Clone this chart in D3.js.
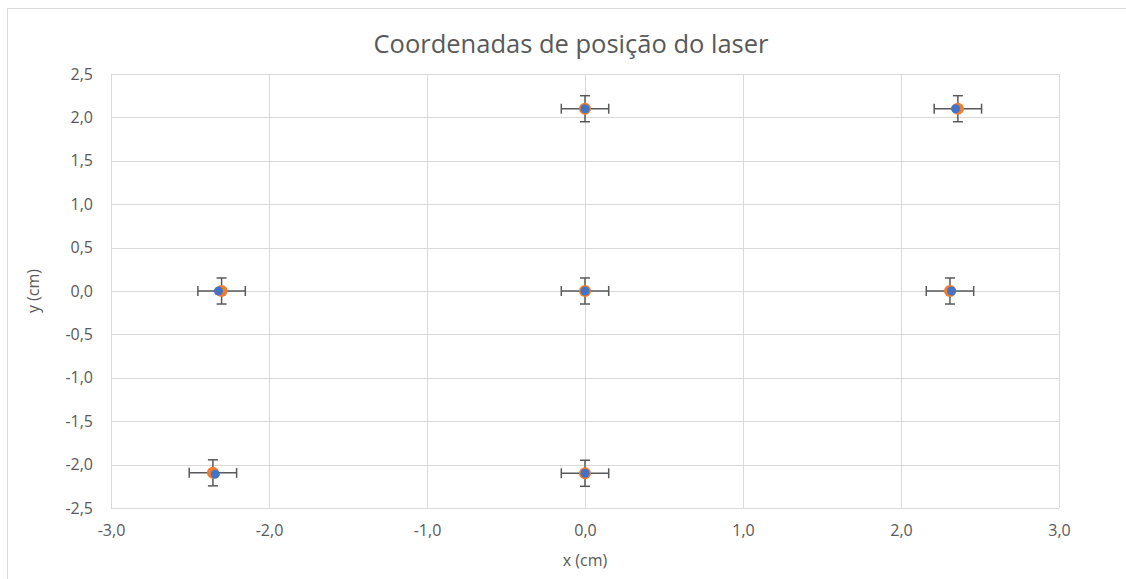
<!DOCTYPE html>
<html>
<head>
<meta charset="utf-8">
<script src="https://cdn.jsdelivr.net/npm/d3@7"></script>
<style>
	body { margin: 0; background: #fff; }
	text { font-family: "Open Sans", "Noto Sans", sans-serif; fill: #595959; }
</style>
</head>
<body>
<div id="chart"></div>
<script>
// measured positions (orange, with error bars)
var measured_x = [0, 2.36, -2.30, 0, 2.31, -2.355, 0];
var measured_y = [2.1, 2.1, 0, 0, 0, -2.095, -2.1];
// reference positions (blue)
var ref_x = [0, 2.345, -2.32, 0, 2.32, -2.34, 0];
var ref_y = [2.1, 2.1, 0, 0, 0, -2.11, -2.1];
var err_x = 0.15;
var err_y = 0.15;

var x_ticks = [-3, -2, -1, 0, 1, 2, 3];
var y_ticks = [-2.5, -2, -1.5, -1, -0.5, 0, 0.5, 1, 1.5, 2, 2.5];

var chart_width  = 1126;
var chart_height = 579;
var plot = { left: 111, right: 1059, top: 74, bottom: 508 };

var fmt = function(d){
	return d3.format('.1f')(d).replace('.', ',').replace('−', '-');
};

var svg = d3.select('#chart')
	.append('svg')
	.attr('width', chart_width)
	.attr('height', chart_height);

// chart frame
svg.append('rect')
	.attr('x', 7.5)
	.attr('y', 8.5)
	.attr('width', chart_width)
	.attr('height', chart_height)
	.attr('fill', 'none')
	.attr('stroke', '#d9d9d9');

var x_scale = d3.scaleLinear().domain([-3, 3]).range([plot.left, plot.right]);
var y_scale = d3.scaleLinear().domain([-2.5, 2.5]).range([plot.bottom, plot.top]);

// grid
svg.append('g')
	.selectAll('line')
	.data(x_ticks)
	.enter()
	.append('line')
	.attr('x1', function(d){ return Math.round(x_scale(d)) + 0.5; })
	.attr('x2', function(d){ return Math.round(x_scale(d)) + 0.5; })
	.attr('y1', plot.top)
	.attr('y2', plot.bottom)
	.attr('stroke', '#d9d9d9');

svg.append('g')
	.selectAll('line')
	.data(y_ticks)
	.enter()
	.append('line')
	.attr('y1', function(d){ return Math.round(y_scale(d)) + 0.5; })
	.attr('y2', function(d){ return Math.round(y_scale(d)) + 0.5; })
	.attr('x1', plot.left)
	.attr('x2', plot.right)
	.attr('stroke', '#d9d9d9');

// axes (labels only, Excel style)
var x_axis = d3.axisBottom(x_scale).tickValues(x_ticks).tickFormat(fmt).tickSize(0).tickPadding(17);
var y_axis = d3.axisLeft(y_scale).tickValues(y_ticks).tickFormat(fmt).tickSize(0).tickPadding(18);

var gx = svg.append('g')
	.attr('transform', 'translate(0,' + plot.bottom + ')')
	.call(x_axis);
var gy = svg.append('g')
	.attr('transform', 'translate(' + plot.left + ',0)')
	.call(y_axis);

[gx, gy].forEach(function(g){
	g.select('.domain').remove();
	g.attr('font-size', 16).attr('font-family', null);
	g.selectAll('text')
		.attr('fill', '#595959');
});

// error bars
var pts = measured_x.map(function(d, i){ return { x: d, y: measured_y[i] }; });
var cap = 5;
var eb = svg.append('g').attr('stroke', '#595959').attr('stroke-width', 1.5);

pts.forEach(function(p){
	var cx = x_scale(p.x), cy = y_scale(p.y);
	var x0 = x_scale(p.x - err_x), x1 = x_scale(p.x + err_x);
	var y0 = y_scale(p.y - err_y), y1 = y_scale(p.y + err_y);
	eb.append('line').attr('x1', x0).attr('x2', x1).attr('y1', cy).attr('y2', cy);
	eb.append('line').attr('x1', x0).attr('x2', x0).attr('y1', cy - cap).attr('y2', cy + cap);
	eb.append('line').attr('x1', x1).attr('x2', x1).attr('y1', cy - cap).attr('y2', cy + cap);
	eb.append('line').attr('x1', cx).attr('x2', cx).attr('y1', y0).attr('y2', y1);
	eb.append('line').attr('x1', cx - cap).attr('x2', cx + cap).attr('y1', y0).attr('y2', y0);
	eb.append('line').attr('x1', cx - cap).attr('x2', cx + cap).attr('y1', y1).attr('y2', y1);
});

// markers
svg.append('g')
	.selectAll('circle')
	.data(pts)
	.enter()
	.append('circle')
	.attr('cx', function(d){ return x_scale(d.x); })
	.attr('cy', function(d){ return y_scale(d.y); })
	.attr('r', 6)
	.attr('fill', '#ED7D31');

svg.append('g')
	.selectAll('circle')
	.data(ref_x)
	.enter()
	.append('circle')
	.attr('cx', function(d){ return x_scale(d); })
	.attr('cy', function(d, i){ return y_scale(ref_y[i]); })
	.attr('r', 4.5)
	.attr('fill', '#4472C4');

// title & axis titles
svg.append('text')
	.text('Coordenadas de posição do laser')
	.attr('x', 571)
	.attr('y', 53)
	.attr('text-anchor', 'middle')
	.attr('font-size', 25.5);

svg.append('text')
	.text('x (cm)')
	.attr('x', 585)
	.attr('y', 566)
	.attr('text-anchor', 'middle')
	.attr('font-size', 16);

svg.append('text')
	.text('y (cm)')
	.attr('transform', 'translate(39,' + 291 + ') rotate(-90)')
	.attr('text-anchor', 'middle')
	.attr('font-size', 16);
</script>
</body>
</html>
